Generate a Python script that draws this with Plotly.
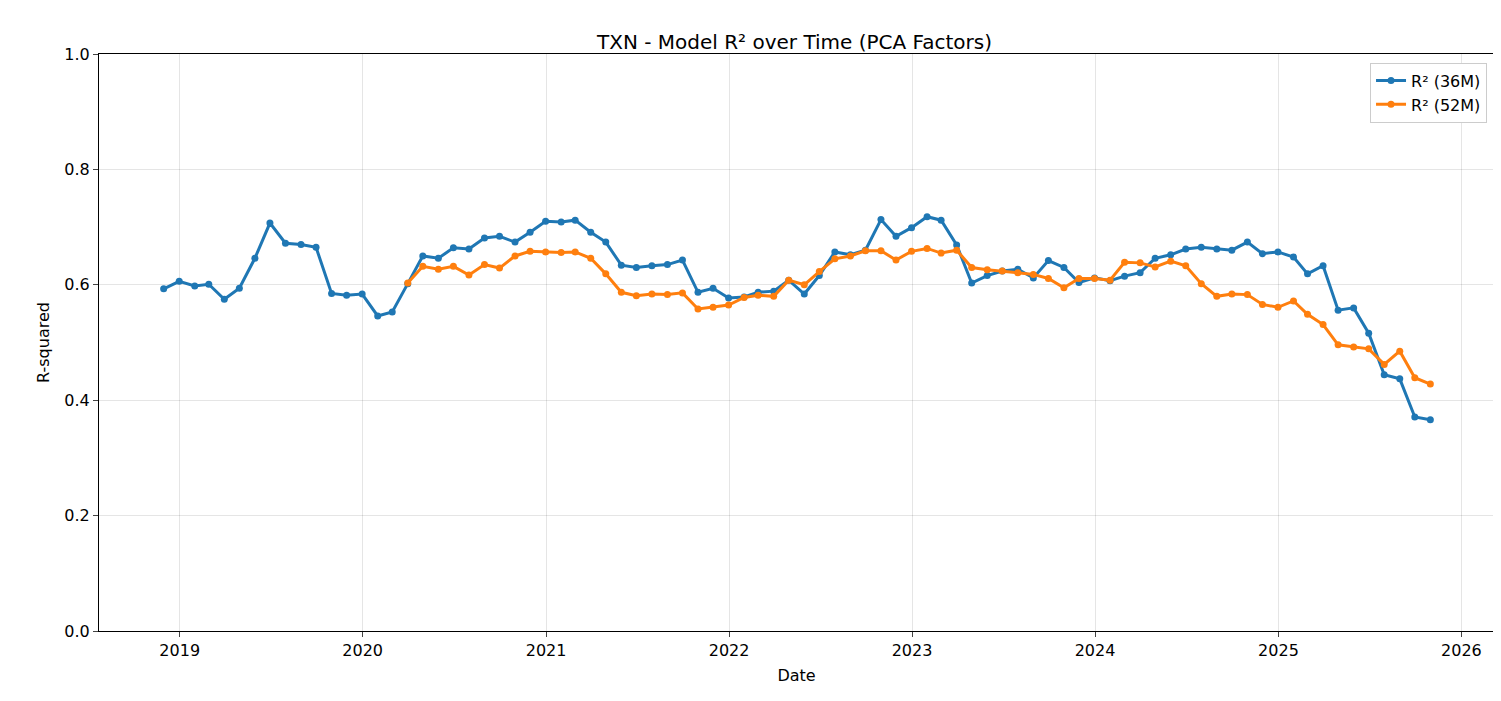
import pandas as pd
import plotly.graph_objects as go

dates_36 = pd.date_range("2018-11-30", "2025-10-31", freq="ME")
r2_36 = [0.593, 0.606,
         0.598, 0.601, 0.575, 0.594, 0.646, 0.707, 0.672, 0.670, 0.665, 0.585, 0.582, 0.584,
         0.546, 0.553, 0.602, 0.650, 0.646, 0.664, 0.662, 0.681, 0.684, 0.674, 0.691, 0.710,
         0.709, 0.712, 0.691, 0.674, 0.634, 0.630, 0.633, 0.635, 0.643, 0.587, 0.594, 0.577,
         0.579, 0.587, 0.589, 0.608, 0.584, 0.616, 0.657, 0.652, 0.660, 0.713, 0.684, 0.699,
         0.718, 0.712, 0.669, 0.603, 0.616, 0.624, 0.627, 0.612, 0.642, 0.630, 0.604, 0.612,
         0.607, 0.615, 0.621, 0.646, 0.652, 0.662, 0.665, 0.662, 0.660, 0.674, 0.654, 0.657,
         0.648, 0.619, 0.633, 0.556, 0.560, 0.516, 0.444, 0.437, 0.371, 0.366]

dates_52 = pd.date_range("2020-03-31", "2025-10-31", freq="ME")
r2_52 = [0.603, 0.632, 0.627, 0.632, 0.617, 0.635, 0.629, 0.650, 0.658, 0.657,
         0.656, 0.657, 0.646, 0.619, 0.587, 0.581, 0.584, 0.583, 0.586, 0.558, 0.561, 0.565,
         0.578, 0.582, 0.580, 0.608, 0.600, 0.623, 0.645, 0.650, 0.659, 0.659, 0.643, 0.658,
         0.663, 0.655, 0.660, 0.630, 0.626, 0.624, 0.621, 0.618, 0.611, 0.595, 0.611, 0.611,
         0.608, 0.639, 0.638, 0.631, 0.641, 0.633, 0.602, 0.580, 0.584, 0.583, 0.566, 0.561,
         0.572, 0.549, 0.531, 0.496, 0.492, 0.489, 0.462, 0.485, 0.439, 0.428]

fig = go.Figure()
fig.add_trace(go.Scatter(x=dates_36, y=r2_36, mode="lines+markers", name="R² (36M)",
                         line=dict(color="#1f77b4", width=3), marker=dict(size=7)))
fig.add_trace(go.Scatter(x=dates_52, y=r2_52, mode="lines+markers", name="R² (52M)",
                         line=dict(color="#ff7f0e", width=3), marker=dict(size=7)))

axis = dict(showline=True, linecolor="black", mirror=True, ticks="outside", ticklen=5,
            gridcolor="rgba(0,0,0,0.1)", zeroline=False, tickfont=dict(size=16),
            automargin=False)
fig.update_layout(
    width=1501, height=701, plot_bgcolor="white", paper_bgcolor="white",
    font=dict(family="DejaVu Sans", color="black"),
    title=dict(text="TXN - Model R² over Time (PCA Factors)", x=0.524, y=0.962,
               xanchor="center", font=dict(size=20)),
    margin=dict(l=91, r=15, t=46, b=78, autoexpand=False),
    xaxis=dict(axis, title=dict(text="Date", font=dict(size=16), standoff=10),
               range=["2018-07-24", "2026-03-07"], dtick="M12", tickformat="%Y"),
    yaxis=dict(axis, title=dict(text="R-squared", font=dict(size=16), standoff=10),
               range=[0, 1], dtick=0.2, tickformat=".1f"),
    legend=dict(x=0.995, y=0.985, xanchor="right", yanchor="top",
                bordercolor="#cccccc", borderwidth=1, font=dict(size=16)),
)
fig.write_html("out.html")
